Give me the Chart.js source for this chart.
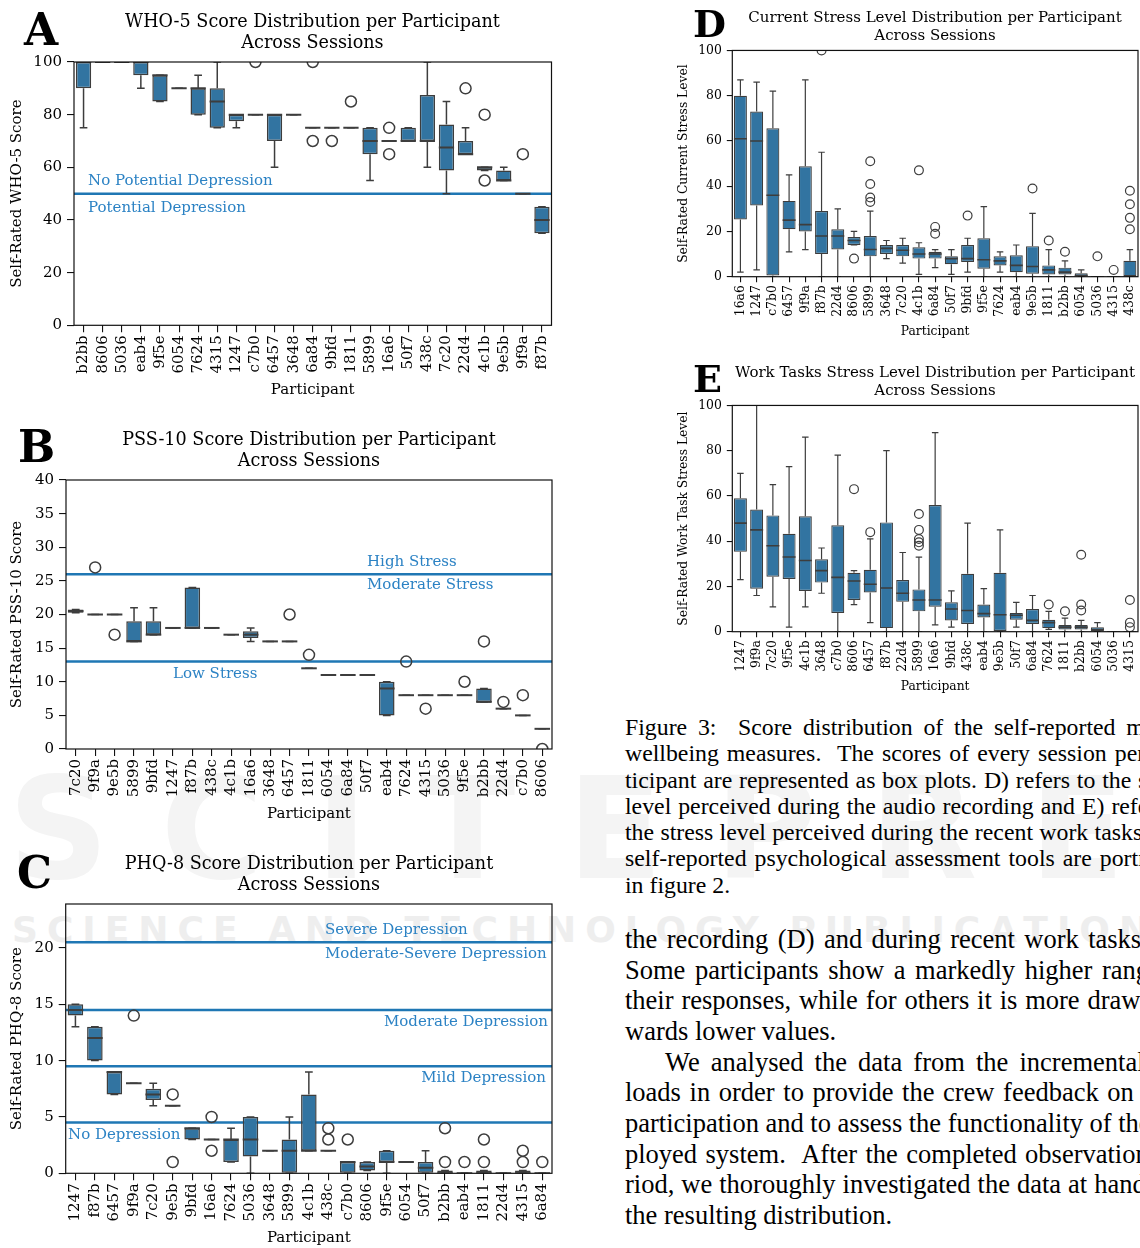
<!DOCTYPE html>
<html>
<head>
<meta charset="utf-8">
<script src="https://cdn.jsdelivr.net/npm/chart.js@4.4.1/dist/chart.umd.min.js"></script>
<style>
  html, body { margin:0; padding:0; background:#fff; }
  body { width:1140px; height:1248px; position:relative; overflow:hidden; }
  canvas { position:absolute; z-index:2; }
  .ttl { position:absolute; font-family:'DejaVu Serif'; color:#000; text-align:center; white-space:nowrap; transform:translateX(-50%); z-index:3; }
  .let { position:absolute; font-family:'DejaVu Serif'; font-weight:bold; line-height:1; color:#000; z-index:3; }
  .wm { position:absolute; font-family:'DejaVu Sans'; font-weight:bold; white-space:nowrap; line-height:1; z-index:0; }
  .para { position:absolute; left:625px; font-family:'Liberation Serif'; color:#000; z-index:3; }
  .para div { white-space:pre; height:auto; }
  .para span { display:inline-block; white-space:pre; }
</style>
</head>
<body>
<div class="wm" style="left:8px; top:760px; font-size:140px; letter-spacing:52px; color:#f4f4f4;">SCITEPRESS</div>
<div class="wm" style="left:12px; top:912px; font-size:36px; letter-spacing:9px; color:#eeeeee;">SCIENCE AND TECHNOLOGY PUBLICATIONS</div>

<div class="let" style="left:24px; top:8px; font-size:44px;">A</div>
<div class="let" style="left:18px; top:425px; font-size:44px;">B</div>
<div class="let" style="left:17px; top:851px; font-size:44px;">C</div>
<div class="let" style="left:693px; top:5px; font-size:38px;">D</div>
<div class="let" style="left:693px; top:360px; font-size:38px;">E</div>

<div class="ttl" style="left:312.5px; top:11px; font-size:17.6px; line-height:21px;">WHO-5 Score Distribution per Participant<br>Across Sessions</div>
<div class="ttl" style="left:309px; top:429px; font-size:17.6px; line-height:21px;">PSS-10 Score Distribution per Participant<br>Across Sessions</div>
<div class="ttl" style="left:309px; top:853px; font-size:17.6px; line-height:21px;">PHQ-8 Score Distribution per Participant<br>Across Sessions</div>
<div class="ttl" style="left:935px; top:8px; font-size:15px; line-height:18px;">Current Stress Level Distribution per Participant<br>Across Sessions</div>
<div class="ttl" style="left:935px; top:363px; font-size:15px; line-height:18px;">Work Tasks Stress Level Distribution per Participant<br>Across Sessions</div>

<div class="para" id="cap" style="top:714px; font-size:23.8px; line-height:26.3px;"></div>
<div class="para" id="bod" style="top:924px; font-size:26.5px; line-height:30.67px;"></div>

<script>
// ================= DATA =================
// A: WHO-5
const whoLabels = ['b2bb','8606','5036','eab4','9f5e','6054','7624','4315','1247','c7b0','6457','3648','6a84','9bfd','1811','5899','16a6','50f7','438c','7c20','22d4','4c1b','9e5b','9f9a','f87b'];
const whoMin = [75,100,100,90,85,90,80,75,75,80,60,80,75,75,75,55,70,70,60,50,65,58.75,55,50,35];
const whoQ1  = [90,100,100,95,85,90,80,75,77.5,80,70,80,75,75,75,65,70,70,70,58.75,65,58.75,55,50,35];
const whoMed = [100,100,100,100,95,90,90,85,80,80,80,80,75,75,75,70,70,70,70,67.5,65,60,55,50,40];
const whoQ3  = [100,100,100,100,95,90,90,90,80,80,80,80,75,75,75,75,70,75,87.5,76.25,70,60,58.75,50,45];
const whoMax = [100,100,100,100,95,90,95,100,80,80,80,80,75,75,75,75,70,75,100,85,75,60,60,50,45];
const whoOutliers = [['c7b0',100],['6a84',100],['6a84',70],['9bfd',70],['1811',85],['16a6',75],['16a6',65],['22d4',90],['4c1b',80],['4c1b',55],['9f9a',65]];
const whoTicks = [0,20,40,60,80,100];
const whoCutoffs = [50];
const whoNotes = ['No Potential Depression','Potential Depression'];

// B: PSS-10
const pssLabels = ['7c20','9f9a','9e5b','5899','9bfd','1247','f87b','438c','4c1b','16a6','3648','6457','1811','6054','6a84','50f7','eab4','7624','4315','5036','9f5e','b2bb','22d4','c7b0','8606'];
const pssMin = [20.25,20,20,16,17,18,18,18,17,16,16,16,12,11,11,11,5,8,8,8,8,7,6,5,3];
const pssQ1  = [20.25,20,20,16,17,18,18,18,17,16.5,16,16,12,11,11,11,5,8,8,8,8,7,6,5,3];
const pssMed = [20.5,20,20,16,17,18,18,18,17,17,16,16,12,11,11,11,9,8,8,8,8,7,6,5,3];
const pssQ3  = [20.75,20,20,19,19,18,24,18,17,17.5,16,16,12,11,11,11,10,8,8,8,8,9,6,5,3];
const pssMax = [20.75,20,20,21,21,18,24,18,17,18,16,16,12,11,11,11,10,8,8,8,8,9,6,5,3];
const pssOutliers = [['9f9a',27],['9e5b',17],['6457',20],['1811',14],['7624',13],['4315',6],['9f5e',10],['b2bb',16],['22d4',7],['c7b0',8],['8606',0]];
const pssTicks = [0,5,10,15,20,25,30,35,40];
const pssCutoffs = [26,13];
const pssNotes = ['High Stress','Moderate Stress','Low Stress'];

// C: PHQ-8
const phqLabels = ['1247','f87b','6457','9f9a','7c20','9e5b','9bfd','16a6','7624','5036','3648','5899','4c1b','438c','c7b0','8606','9f5e','6054','50f7','b2bb','eab4','1811','22d4','4315','6a84'];
const phqMin = [13,10,7,8,6,6,3,3,1,0,2,0,2,2,0,0.25,0,1,0,0,0,0,0,0,0];
const phqQ1  = [14,10,7,8,6.5,6,3,3,1,1.5,2,0,2,2,0,0.25,1,1,0,0,0,0,0,0,0];
const phqMed = [14.5,12,9,8,7,6,4,3,3,3,2,2,2,2,1,0.6,1,1,0.5,0,0,0,0,0,0];
const phqQ3  = [15,13,9,8,7.5,6,4,3,3,5,2,3,7,2,1,1,2,1,1,0.25,0,0.25,0,0.25,0];
const phqMax = [15,13,9,8,8,6,4,3,4,5,2,5,9,2,1,1,2,1,2,0.25,0,0.25,0,0.25,0];
const phqOutliers = [['9f9a',14],['9e5b',7],['9e5b',1],['16a6',5],['16a6',2],['438c',3],['438c',4],['c7b0',3],['b2bb',1],['b2bb',4],['eab4',1],['1811',1],['1811',3],['4315',1],['4315',2],['6a84',1]];
const phqTicks = [0,5,10,15,20];
const phqCutoffs = [20.5,14.5,9.5,4.5];
const phqNotes = ['Severe Depression','Moderate-Severe Depression','Moderate Depression','Mild Depression','No Depression'];

// D: current stress
const curLabels = ['16a6','1247','c7b0','6457','9f9a','f87b','22d4','8606','5899','3648','7c20','4c1b','6a84','50f7','9bfd','9f5e','7624','eab4','9e5b','1811','b2bb','6054','5036','4315','438c'];
const curMin = [2,3,0,11,12,0,0,14,0,8,6,1,4,1,2,0,2,0,0,0,0,0,0,0,0];
const curQ1  = [25.3,31.5,0.5,21,20,10,12,14,9,10,9,8,8,5.5,6.5,3.5,5,2,1.3,1,1,0,0,0,0];
const curMed = [61,60,36,25,23,18,18,16,12,12.5,11.7,10,10,8,8,7.5,7,5,4.5,3,2,0.5,0,0,0];
const curQ3  = [80,73,65.6,33.5,48.8,29,21,17.5,18,14,14,13,11,9,14,17,9,9.5,13.5,5,4,1.5,0,0,7];
const curMax = [87,86,82,45,87,55,30,20,29,16,17,15,12,12,17,31,11,14,28,12,7,3,0,0,12];
const curOutliers = [['f87b',100],['8606',8],['5899',51],['5899',41],['5899',35],['5899',33],['4c1b',47],['6a84',22],['6a84',19],['9bfd',27],['9e5b',39],['1811',16],['b2bb',11],['5036',9],['4315',3],['438c',38],['438c',32],['438c',26],['438c',21]];
const curTicks = [0,20,40,60,80,100];

// E: work task stress
const wrkLabels = ['1247','9f9a','7c20','9f5e','4c1b','3648','c7b0','8606','6457','f87b','22d4','5899','16a6','9bfd','438c','eab4','9e5b','50f7','6a84','7624','1811','b2bb','6054','5036','4315'];
const wrkMin = [23,16,11,2,11,17,0,12,4,0,0,0,3,2,0,0,0,2,0,1,0,0,0,0,0];
const wrkQ1  = [35.3,19,24.3,23.3,18,21.7,8.3,14,17.3,1.6,13.2,9,11,5,3.4,6.3,0.3,5.3,3.4,1.6,1,1,0,0,0];
const wrkMed = [48,45,38,33,31.5,27,24,22.4,21,19.3,17,14,14,10,9.4,8,7.5,7.3,5,4,2,2,1,0,0];
const wrkQ3  = [59,54,51.4,43.3,51,32,47,26,27.4,48.3,22.8,18.7,56,13,25.6,12,26,8.3,10,5.3,3,3,2,0,0];
const wrkMax = [70,100,65,73,86,37,78,27,41,80,35,33,88,18,48,19,45,13,16,9,6,5,4,0,0];
const wrkOutliers = [['8606',63],['6457',44],['5899',52],['5899',45],['5899',41],['5899',39.5],['5899',38],['7624',12],['1811',9],['b2bb',34],['b2bb',12],['b2bb',9.4],['4315',14],['4315',4],['4315',2]];
const wrkTicks = [0,20,40,60,80,100];

// ================= STYLE =================
const FILL = '#3274a1', EDGE = '#3d3d3d', CUT = '#1f77b4', NOTE = '#2b82c4', AXIS = '#111';
const SPECS = new WeakMap();

const boxPlugin = {
  id: 'boxplot',
  beforeDatasetsDraw(chart) {
    const s = SPECS.get(chart.canvas); if (!s) return;
    const ctx = chart.ctx, ca = chart.chartArea, ys = chart.scales.y;
    ctx.save();
    ctx.beginPath(); ctx.rect(ca.left, ca.top, ca.right - ca.left, ca.bottom - ca.top); ctx.clip();
    ctx.strokeStyle = CUT; ctx.lineWidth = s.cutW;
    (s.cutoffs || []).forEach(v => {
      const p = ys.getPixelForValue(v);
      ctx.beginPath(); ctx.moveTo(ca.left, p); ctx.lineTo(ca.right, p); ctx.stroke();
    });
    ctx.strokeStyle = EDGE; ctx.lineWidth = s.lw;
    chart.getDatasetMeta(0).data.forEach((b, i) => {
      const x = b.x, cap = b.width / 4;
      const pMin = ys.getPixelForValue(s.min[i]), pQ1 = ys.getPixelForValue(s.q1[i]);
      const pQ3 = ys.getPixelForValue(s.q3[i]), pMax = ys.getPixelForValue(s.max[i]);
      ctx.beginPath();
      ctx.moveTo(x, pQ1); ctx.lineTo(x, pMin);
      ctx.moveTo(x - cap, pMin); ctx.lineTo(x + cap, pMin);
      ctx.moveTo(x, pQ3); ctx.lineTo(x, pMax);
      ctx.moveTo(x - cap, pMax); ctx.lineTo(x + cap, pMax);
      ctx.stroke();
    });
    ctx.restore();
  },
  afterDatasetsDraw(chart) {
    const s = SPECS.get(chart.canvas); if (!s) return;
    const ctx = chart.ctx, ca = chart.chartArea, ys = chart.scales.y;
    ctx.save();
    ctx.beginPath(); ctx.rect(ca.left, ca.top, ca.right - ca.left, ca.bottom - ca.top); ctx.clip();
    ctx.strokeStyle = EDGE; ctx.lineWidth = s.medW;
    chart.getDatasetMeta(0).data.forEach((b, i) => {
      const hw = b.width / 2, p = ys.getPixelForValue(s.med[i]);
      ctx.beginPath(); ctx.moveTo(b.x - hw, p); ctx.lineTo(b.x + hw, p); ctx.stroke();
    });
    ctx.restore();
    ctx.save();
    ctx.fillStyle = NOTE; ctx.font = s.fs + 'px "DejaVu Serif"'; ctx.textBaseline = 'middle';
    (s.notes || []).forEach((n, k) => {
      const pos = s.notePos[k];
      ctx.textAlign = pos.align;
      ctx.fillText(n, pos.x - s.cx, ys.getPixelForValue(pos.v) + pos.dy);
    });
    ctx.restore();
  },
  afterDraw(chart) {
    const ca = chart.chartArea, ctx = chart.ctx;
    ctx.save(); ctx.strokeStyle = AXIS; ctx.lineWidth = 1.2;
    ctx.strokeRect(ca.left, ca.top, ca.right - ca.left, ca.bottom - ca.top);
    ctx.restore();
  }
};

function makeChart(s) {
  const cv = document.createElement('canvas');
  cv.width = s.cw; cv.height = s.ch;
  cv.style.left = s.cx + 'px'; cv.style.top = s.cy + 'px';
  cv.style.width = s.cw + 'px'; cv.style.height = s.ch + 'px';
  document.body.appendChild(cv);
  SPECS.set(cv, s);
  const lh = s.afs * 1.2;
  const padL = s.yTitleX - s.cx - lh / 2;
  const padT = s.top - s.cy;
  const padR = s.cx + s.cw - s.right;
  const yW = s.left - s.cx - padL;
  const xH = s.cy + s.ch - s.bottom;
  const tickFont = { family: 'DejaVu Serif', size: s.fs };
  const titleFont = { family: 'DejaVu Serif', size: s.afs };
  new Chart(cv, {
    type: 'bar',
    data: {
      labels: s.labels,
      datasets: [
        { type: 'bar', data: s.q1.map((v, i) => [v, s.q3[i]]), backgroundColor: FILL, borderColor: EDGE,
          borderWidth: s.lw, borderSkipped: false, barPercentage: 0.8, categoryPercentage: 1, order: 2 },
        { type: 'line', data: s.outliers.map(o => ({ x: o[0], y: o[1] })), showLine: false,
          pointRadius: s.pr, pointBorderWidth: s.lw, pointBorderColor: EDGE,
          pointBackgroundColor: 'rgba(0,0,0,0)', pointStyle: 'circle', clip: 0, order: 1 }
      ]
    },
    options: {
      responsive: false, animation: false, events: [], devicePixelRatio: 1,
      layout: { padding: { left: padL, top: padT, right: padR, bottom: 0 } },
      plugins: { legend: { display: false }, tooltip: { enabled: false } },
      scales: {
        x: {
          type: 'category', offset: true,
          grid: { display: true, offset: false, drawOnChartArea: false, drawTicks: true, tickLength: s.tl, color: AXIS, lineWidth: 1.1 },
          border: { display: false },
          ticks: { maxRotation: 90, minRotation: 90, autoSkip: false, padding: 3, color: '#000', font: tickFont },
          title: { display: true, text: 'Participant', color: '#000', font: titleFont, padding: 0 },
          afterFit(sc) { sc.height = xH; }
        },
        y: {
          min: 0, max: s.ymax,
          afterBuildTicks(sc) { sc.ticks = s.ticks.map(v => ({ value: v })); },
          grid: { display: true, drawOnChartArea: false, drawTicks: true, tickLength: s.tl, color: AXIS, lineWidth: 1.1 },
          border: { display: false },
          ticks: { padding: 5, color: '#000', font: tickFont },
          title: { display: true, text: s.ytitle, color: '#000', font: titleFont, padding: 0 },
          afterFit(sc) { sc.width = yW; }
        }
      }
    },
    plugins: [boxPlugin]
  });
}

const bigGeo = { fs: 15, afs: 15, lw: 1.5, medW: 2, cutW: 2.5, pr: 5.5, tl: 7 };
const smallGeo = { fs: 12.4, afs: 12.3, lw: 1.2, medW: 1.6, cutW: 2.5, pr: 4.4, tl: 5.5 };

makeChart(Object.assign({}, bigGeo, {
  labels: whoLabels, min: whoMin, q1: whoQ1, med: whoMed, q3: whoQ3, max: whoMax, outliers: whoOutliers,
  ticks: whoTicks, ymax: 100, cutoffs: whoCutoffs, notes: whoNotes, ytitle: 'Self-Rated WHO-5 Score',
  notePos: [{ v: 50, dy: -13, x: 88, align: 'left' }, { v: 50, dy: 14, x: 88, align: 'left' }],
  cx: 0, cy: 48, cw: 575, ch: 351, left: 74, right: 551.5, top: 58.3, bottom: 325.3, yTitleX: 17
}));
makeChart(Object.assign({}, bigGeo, {
  labels: pssLabels, min: pssMin, q1: pssQ1, med: pssMed, q3: pssQ3, max: pssMax, outliers: pssOutliers,
  ticks: pssTicks, ymax: 40, cutoffs: pssCutoffs, notes: pssNotes, ytitle: 'Self-Rated PSS-10 Score',
  notePos: [{ v: 26, dy: -12, x: 367, align: 'left' }, { v: 26, dy: 11, x: 367, align: 'left' }, { v: 13, dy: 12.5, x: 173, align: 'left' }],
  cx: 0, cy: 466, cw: 575, ch: 357, left: 66, right: 552, top: 476.7, bottom: 749, yTitleX: 17
}));
makeChart(Object.assign({}, bigGeo, {
  labels: phqLabels, min: phqMin, q1: phqQ1, med: phqMed, q3: phqQ3, max: phqMax, outliers: phqOutliers,
  ticks: phqTicks, ymax: 23.9, cutoffs: phqCutoffs, notes: phqNotes, ytitle: 'Self-Rated PHQ-8 Score',
  notePos: [{ v: 20.5, dy: -12, x: 325, align: 'left' }, { v: 20.5, dy: 12, x: 325, align: 'left' },
            { v: 14.5, dy: 12, x: 548, align: 'right' }, { v: 9.5, dy: 12, x: 546, align: 'right' },
            { v: 4.5, dy: 12.5, x: 68, align: 'left' }],
  cx: 0, cy: 890, cw: 575, ch: 357, left: 65.7, right: 552, top: 900.7, bottom: 1173.3, yTitleX: 17
}));
makeChart(Object.assign({}, smallGeo, {
  labels: curLabels, min: curMin, q1: curQ1, med: curMed, q3: curQ3, max: curMax, outliers: curOutliers,
  ticks: curTicks, ymax: 100, cutoffs: [], notes: [], notePos: [], ytitle: 'Self-Rated Current Stress Level',
  cx: 670, cy: 38, cw: 490, ch: 301, left: 732.3, right: 1138, top: 49, bottom: 276.7, yTitleX: 684
}));
makeChart(Object.assign({}, smallGeo, {
  labels: wrkLabels, min: wrkMin, q1: wrkQ1, med: wrkMed, q3: wrkQ3, max: wrkMax, outliers: wrkOutliers,
  ticks: wrkTicks, ymax: 100, cutoffs: [], notes: [], notePos: [], ytitle: 'Self-Rated Work Task Stress Level',
  cx: 670, cy: 393, cw: 490, ch: 301, left: 732.3, right: 1138, top: 404, bottom: 631.7, yTitleX: 684
}));

// ================= TEXT =================
const captionLines = [
  'Figure 3:  Score distribution of the self-reported mental',
  'wellbeing measures.  The scores of every session per par-',
  'ticipant are represented as box plots. D) refers to the stress',
  'level perceived during the audio recording and E) refers to',
  'the stress level perceived during the recent work tasks. The',
  'self-reported psychological assessment tools are portrayed',
  'in figure 2.'
];
const bodyLines = [
  'the recording (D) and during recent work tasks (E).',
  'Some participants show a markedly higher range in',
  'their responses, while for others it is more drawn to-',
  'wards lower values.',
  'We analysed the data from the incremental up-',
  'loads in order to provide the crew feedback on their',
  'participation and to assess the functionality of the de-',
  'ployed system.  After the completed observation pe-',
  'riod, we thoroughly investigated the data at hand and',
  'the resulting distribution.'
];
function buildPara(id, lines, lastSet, indentSet, W, indent) {
  const host = document.getElementById(id);
  lines.forEach((t, i) => {
    const d = document.createElement('div');
    const sp = document.createElement('span');
    sp.textContent = t;
    d.appendChild(sp);
    host.appendChild(d);
    const ind = indentSet.includes(i) ? indent : 0;
    sp.style.marginLeft = ind + 'px';
    if (!lastSet.includes(i)) {
      const nat = sp.getBoundingClientRect().width;
      const n = (t.match(/ /g) || []).length;
      if (n > 0) sp.style.wordSpacing = ((W - ind - nat) / n) + 'px';
    }
  });
}
buildPara('cap', captionLines, [6], [], 566, 0);
buildPara('bod', bodyLines, [3, 9], [4], 566, 40);
</script>
</body>
</html>
